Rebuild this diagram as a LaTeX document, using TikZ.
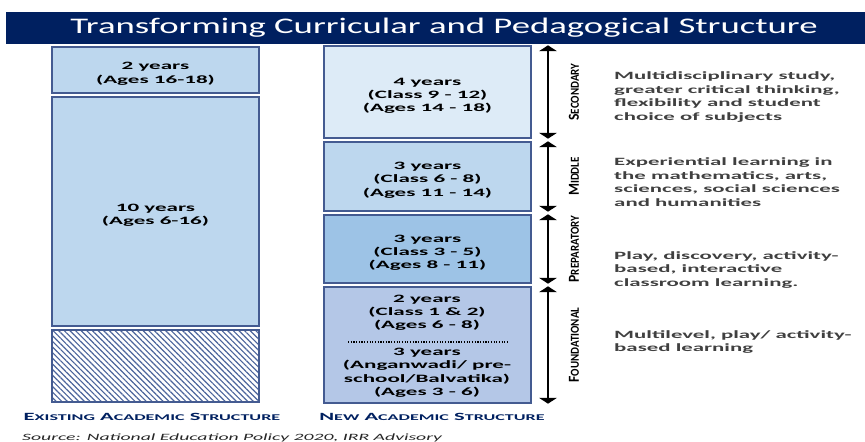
\documentclass[tikz,border=0pt]{standalone}
\usepackage{fontspec}
\usepackage{tikz}
\usetikzlibrary{arrows.meta,fit,patterns.meta}
\newfontfamily\titlefont[FakeStretch=1.65]{Carlito}
\newfontfamily\widefont[FakeStretch=2.05]{Carlito}
\newfontfamily\narrowfont[FakeStretch=0.9]{Carlito}
\definecolor{navy}{RGB}{0,32,96}
\definecolor{edge}{RGB}{68,91,145}
\definecolor{pale}{RGB}{221,235,247}
\definecolor{lightblue}{RGB}{189,215,238}
\definecolor{midblue}{RGB}{157,195,230}
\definecolor{lavender}{RGB}{180,199,231}
\definecolor{hatch}{RGB}{75,100,155}
\definecolor{note}{RGB}{64,64,64}
\newcommand{\capword}[2]{#1\scalebox{0.8}{#2}}
\tikzset{
    stage/.style={draw=edge, line width=1.2pt, inner sep=0pt},
    info/.style={inner sep=0pt, align=center, yshift=-3.2pt,
            font=\widefont\bfseries\fontsize{9.6}{11.4}\selectfont},
    span/.style={{Triangle[width=15pt,length=5pt]}-{Triangle[width=15pt,length=5pt]}, line width=1.5pt},
    level/.style={rotate=90, inner sep=0pt, font=\narrowfont\bfseries\fontsize{13}{15}\selectfont},
    aim/.style={anchor=west, align=left, inner sep=0pt, text=note,
            font=\widefont\bfseries\fontsize{9.5}{11.5}\selectfont},
    caption/.style={inner sep=0pt, text=navy, font=\widefont\bfseries\fontsize{9.4}{12}\selectfont}
}

\begin{document}
\begin{tikzpicture}[x=0.03cm, y=-0.03cm]
        \useasboundingbox (0,0) rectangle (865,441);
        %title bar
        \fill[navy] (6,12) rectangle (865,44);
        \node[text=white, inner sep=0pt, font=\titlefont\fontsize{19}{22}\selectfont] (title) at (444,28) {Transforming Curricular and Pedagogical Structure};
        %existing structure
        \node[stage, fill=lightblue, fit={(52,47) (259,93)}] (ex1) {};
        \node[stage, fill=lightblue, fit={(52,97) (259,326)}] (ex2) {};
        \node[stage, fill=white, pattern={Lines[angle=135,distance=3.4pt,line width=1pt]}, pattern color=hatch, fit={(52,330) (259,402)}] (ex3) {};
        \draw[edge, line width=1.2pt] (ex3.north west) rectangle (ex3.south east);
        \node[info] (ex1info) at (ex1.center) {2 years\\(Ages 16-18)};
        \node[info] (ex2info) at (ex2.center) {10 years\\(Ages 6-16)};
        \node[caption] (excap) at (152,417) {\capword{E}{XISTING} \capword{A}{CADEMIC} \capword{S}{TRUCTURE}};
        %new structure
        \node[stage, fill=pale, fit={(324,46) (531,138)}] (sec) {};
        \node[stage, fill=lightblue, fit={(324,142) (531,211)}] (mid) {};
        \node[stage, fill=midblue, fit={(324,215) (531,283)}] (prep) {};
        \node[stage, fill=lavender, fit={(324,287) (531,403)}] (found) {};
        \node[info] (secinfo) at (sec.center) {4 years\\(Class 9 - 12)\\(Ages 14 - 18)};
        \node[info] (midinfo) at (mid.center) {3 years\\(Class 6 - 8)\\(Ages 11 - 14)};
        \node[info] (prepinfo) at (prep.center) {3 years\\(Class 3 - 5)\\(Ages 8 - 11)};
        \node[info] (found1) at (427,309) {2 years\\(Class 1 \& 2)\\(Ages 6 - 8)};
        \node[info] (found2) at (427,369) {3 years\\(Anganwadi/ pre-\\school/Balvatika)\\(Ages 3 - 6)};
        \coordinate (dl) at (348,342);
        \coordinate (dr) at (509,342);
        \draw[line width=1.3pt, dash pattern=on 1pt off 1.3pt] (dl) -- (dr);
        \node[caption] (newcap) at (432,417) {\capword{N}{EW} \capword{A}{CADEMIC} \capword{S}{TRUCTURE}};
        %stage arrows and names
        \coordinate (ax) at (548,0);
        \coordinate (lx) at (574,0);
        \draw[span] (sec.north -| ax) -- (sec.south -| ax);
        \draw[span] (mid.north -| ax) -- (mid.south -| ax);
        \draw[span] (prep.north -| ax) -- (prep.south -| ax);
        \draw[span] (found.north -| ax) -- (found.south -| ax);
        \node[level] (secname) at (sec.center -| lx) {\capword{S}{ECONDARY}};
        \node[level] (midname) at (mid.center -| lx) {\capword{M}{IDDLE}};
        \node[level] (prepname) at (prep.center -| lx) {\capword{P}{REPARATORY}};
        \node[level] (foundname) at (found.center -| lx) {\capword{F}{OUNDATIONAL}};
        %what each stage offers
        \node[aim] (secaim) at (614,97) {Multidisciplinary study,\\greater critical thinking,\\flexibility and student\\choice of subjects};
        \node[aim] (midaim) at (614,182) {Experiential learning in\\the mathematics, arts,\\sciences, social sciences\\and humanities};
        \node[aim] (prepaim) at (614,270) {Play, discovery, activity-\\based, interactive\\classroom learning.};
        \node[aim] (foundaim) at (614,342) {Multilevel, play/ activity-\\based learning};
        %source
        \node[anchor=base west, inner sep=0pt, text=black!85, font=\widefont\itshape\fontsize{8.2}{10}\selectfont] (src) at (22,440) {Source: National Education Policy 2020, IRR Advisory};
    \end{tikzpicture}
\end{document}
